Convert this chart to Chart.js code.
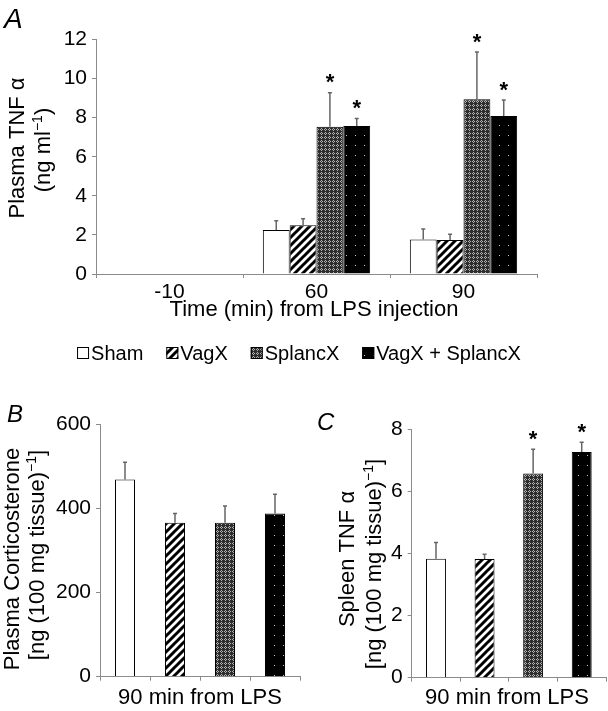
<!DOCTYPE html>
<html>
<head>
<meta charset="utf-8">
<script src="https://cdn.jsdelivr.net/npm/chart.js@4/dist/chart.umd.min.js"></script>
<style>
  html, body { margin: 0; padding: 0; background: #fff; }
  #wrap { position: relative; width: 608px; height: 711px; overflow: hidden; background: #fff; }
  canvas { position: absolute; }
</style>
</head>
<body>
<div id="wrap">
  <canvas id="cA" width="608" height="370" style="left:0;top:0"></canvas>
  <canvas id="cB" width="304" height="341" style="left:0;top:370px"></canvas>
  <canvas id="cC" width="304" height="341" style="left:304px;top:370px"></canvas>
</div>
<script>
// ---------------- DATA ----------------
const seriesNames = ['Sham', 'VagX', 'SplancX', 'VagX + SplancX'];

// Panel A: plasma TNF alpha (ng/ml) vs time from LPS injection
const categoriesA = ['-10', '60', '90'];
const tnfSham      = [0,    2.25, 1.77];
const tnfVagX      = [0.03, 2.49, 1.74];
const tnfSplancX   = [0,    7.53, 8.94];
const tnfBoth      = [0.03, 7.57, 8.08];
const tnfShamSem    = [0, 0.48, 0.53];
const tnfVagXSem    = [0, 0.34, 0.29];
const tnfSplancXSem = [0, 1.75, 2.42];
const tnfBothSem    = [0, 0.39, 0.82];
const tnfShamSig    = [false, false, false];
const tnfVagXSig    = [false, false, false];
const tnfSplancXSig = [false, true, true];
const tnfBothSig    = [false, true, true];
const yTicksA = [0, 2, 4, 6, 8, 10, 12];

// Panel B: plasma corticosterone, 90 min from LPS
const corticosterone    = [469, 366, 366, 388];
const corticosteroneSem = [41, 22, 40, 46];
const corticosteroneSig = [false, false, false, false];
const yTicksB = [0, 200, 400, 600];

// Panel C: spleen TNF alpha, 90 min from LPS
const spleenTnf    = [3.83, 3.82, 6.57, 7.26];
const spleenTnfSem = [0.52, 0.15, 0.78, 0.31];
const spleenTnfSig = [false, false, true, true];
const yTicksC = [0, 2, 4, 6, 8];

// ---------------- STYLE ----------------
const FONT = "'Liberation Sans', Arial, Helvetica, sans-serif";
const AXIS = '#8a8a8a';

function makePattern(w, h, draw) {
  const c = document.createElement('canvas');
  c.width = w; c.height = h;
  const g = c.getContext('2d');
  draw(g, w, h);
  return document.createElement('canvas').getContext('2d').createPattern(c, 'repeat');
}
const fillSham = '#ffffff';
const fillVagX = makePattern(8, 8, (g) => {
  g.fillStyle = '#fff'; g.fillRect(0, 0, 8, 8);
  g.strokeStyle = '#000'; g.lineWidth = 3;
  g.beginPath();
  g.moveTo(-2, 10); g.lineTo(10, -2);
  g.moveTo(-2, 2); g.lineTo(2, -2);
  g.moveTo(6, 10); g.lineTo(10, 6);
  g.stroke();
});
const fillSplancX = makePattern(4, 4, (g) => {
  g.fillStyle = '#2e2e2e'; g.fillRect(0, 0, 4, 4);
  g.fillStyle = '#b4b4b4';
  g.fillRect(1, 0, 1, 1); g.fillRect(0, 1, 1, 1); g.fillRect(2, 1, 1, 1); g.fillRect(1, 2, 1, 1);
});
const fillBoth = makePattern(9, 10, (g) => {
  g.fillStyle = '#000'; g.fillRect(0, 0, 9, 10);
  g.fillStyle = '#c8c8c8'; g.fillRect(4, 5, 1, 1);
});
const fills = [fillSham, fillVagX, fillSplancX, fillBoth];

// ---------------- HELPERS ----------------
function drawRich(ctx, parts, x, y, size, rotate, style) {
  ctx.save();
  ctx.translate(x, y);
  if (rotate) ctx.rotate(-Math.PI / 2);
  ctx.textBaseline = 'alphabetic';
  ctx.textAlign = 'left';
  ctx.fillStyle = '#000';
  const pre = style ? style + ' ' : '';
  const fontFor = (sup) => pre + (sup ? Math.round(size * 0.62) : size) + 'px ' + FONT;
  let w = 0;
  parts.forEach(([t, sup]) => { ctx.font = fontFor(sup); w += ctx.measureText(t).width; });
  let cx = -w / 2;
  parts.forEach(([t, sup]) => {
    ctx.font = fontFor(sup);
    ctx.fillText(t, cx, sup ? -size * 0.36 : 0);
    cx += ctx.measureText(t).width;
  });
  ctx.restore();
}
function drawLeft(ctx, text, x, y, size, style) {
  ctx.save();
  ctx.font = (style ? style + ' ' : '') + size + 'px ' + FONT;
  ctx.fillStyle = '#000'; ctx.textAlign = 'left'; ctx.textBaseline = 'alphabetic';
  ctx.fillText(text, x, y);
  ctx.restore();
}

function errorBarPlugin(semSets, sigSets) {
  return {
    id: 'errbars',
    afterDatasetsDraw(chart) {
      const ctx = chart.ctx;
      const ys = chart.scales.y;
      chart.data.datasets.forEach((ds, i) => {
        const meta = chart.getDatasetMeta(i);
        meta.data.forEach((el, j) => {
          const v = ds.data[j];
          const e = semSets[i][j];
          const top = ys.getPixelForValue(v + e);
          ctx.save();
          if (e > 0) {
            ctx.strokeStyle = '#666';
            ctx.lineWidth = 1.5;
            ctx.beginPath();
            ctx.moveTo(el.x, el.y);
            ctx.lineTo(el.x, top);
            ctx.moveTo(el.x - 2, top);
            ctx.lineTo(el.x + 2, top);
            ctx.stroke();
          }
          if (sigSets[i][j]) {
            const s = 22;
            ctx.font = 'bold ' + s + 'px ' + FONT;
            ctx.fillStyle = '#000';
            ctx.textAlign = 'center';
            ctx.textBaseline = 'alphabetic';
            ctx.fillText('*', el.x, top - 16 + 0.57 * s);
          }
          ctx.restore();
        });
      });
    }
  };
}

function textPlugin(drawFn) {
  return { id: 'texts', afterDraw(chart) { drawFn(chart.ctx, chart); } };
}

function scaleOpts(ticksArr, yWidth, xHeight, showXLabels) {
  return {
    x: {
      grid: { display: true, drawOnChartArea: false, tickLength: 4, color: AXIS, offset: true },
      border: { display: true, color: AXIS, width: 1 },
      ticks: { display: showXLabels, color: '#000', font: { family: FONT, size: 21 }, padding: 2, maxRotation: 0 },
      afterFit: (s) => { s.height = xHeight; s.paddingLeft = 0; s.paddingRight = 0; }
    },
    y: {
      min: ticksArr[0], max: ticksArr[ticksArr.length - 1],
      afterBuildTicks: (s) => { s.ticks = ticksArr.map(v => ({ value: v })); },
      grid: { display: true, drawOnChartArea: false, tickLength: 4, color: AXIS },
      border: { display: true, color: AXIS, width: 1 },
      ticks: { color: '#000', font: { family: FONT, size: 21 }, padding: 5 },
      afterFit: (s) => { s.width = yWidth; s.paddingTop = 0; s.paddingBottom = 0; }
    }
  };
}

const common = {
  responsive: false, animation: false, devicePixelRatio: 1,
  events: [],
};

// ---------------- CHART A ----------------
const valuesA = [tnfSham, tnfVagX, tnfSplancX, tnfBoth];
new Chart(document.getElementById('cA'), {
  type: 'bar',
  data: {
    labels: categoriesA,
    datasets: seriesNames.map((n, i) => ({
      label: n, data: valuesA[i], backgroundColor: fills[i],
      borderColor: '#000', borderWidth: 1,
      categoryPercentage: 0.73, barPercentage: 1.0
    }))
  },
  options: Object.assign({}, common, {
    layout: { padding: { top: 39.5, right: 71, left: 0, bottom: 0 } },
    plugins: { legend: { display: false }, tooltip: { enabled: false } },
    scales: scaleOpts(yTicksA, 96, 96, true)
  }),
  plugins: [
    errorBarPlugin([tnfShamSem, tnfVagXSem, tnfSplancXSem, tnfBothSem],
                   [tnfShamSig, tnfVagXSig, tnfSplancXSig, tnfBothSig]),
    textPlugin((ctx, chart) => {
      drawLeft(ctx, 'A', 4, 28, 28, 'italic');
      drawRich(ctx, [['Plasma TNF α', 0]], 24, 148, 22, true);
      drawRich(ctx, [['(ng ml', 0], ['−1', 1], [')', 0]], 49.5, 150, 22, true);
      drawRich(ctx, [['Time (min) from LPS injection', 0]], 314, 316, 22, false);
      // legend
      const size = 20, box = 12, gapBox = 2, gapItem = 23;
      ctx.save();
      ctx.font = size + 'px ' + FONT;
      const widths = seriesNames.map(n => ctx.measureText(n).width);
      let total = widths.reduce((a, b) => a + b, 0) + seriesNames.length * (box + gapBox) + gapItem * (seriesNames.length - 1);
      let x = 299 - total / 2;
      const base = 360;
      seriesNames.forEach((n, i) => {
        ctx.fillStyle = fills[i];
        ctx.fillRect(x, base - 13, box, box);
        ctx.strokeStyle = '#000'; ctx.lineWidth = 1;
        ctx.strokeRect(x + 0.5, base - 12.5, box - 1, box - 1);
        ctx.fillStyle = '#000';
        ctx.textBaseline = 'alphabetic'; ctx.textAlign = 'left';
        ctx.fillText(n, x + box + gapBox, base);
        x += box + gapBox + widths[i] + gapItem;
      });
      ctx.restore();
    })
  ]
});

// ---------------- CHART B ----------------
const singleLabels = ['', '', '', ''];
new Chart(document.getElementById('cB'), {
  type: 'bar',
  data: {
    labels: singleLabels,
    datasets: [{
      label: 'Plasma Corticosterone', data: corticosterone, backgroundColor: fills,
      borderColor: '#000', borderWidth: 1, categoryPercentage: 0.4, barPercentage: 1.0
    }]
  },
  options: Object.assign({}, common, {
    layout: { padding: { top: 54.3, right: 4, left: 0, bottom: 0 } },
    plugins: { legend: { display: false }, tooltip: { enabled: false } },
    scales: scaleOpts(yTicksB, 100, 34.3, false)
  }),
  plugins: [
    errorBarPlugin([corticosteroneSem], [corticosteroneSig]),
    textPlugin((ctx) => {
      drawLeft(ctx, 'B', 7, 52, 24, 'italic');
      drawRich(ctx, [['Plasma Corticosterone', 0]], 19, 189, 22, true);
      drawRich(ctx, [['[ng (100 mg tissue)', 0], ['−1', 1], [']', 0]], 44, 185, 22, true);
      drawRich(ctx, [['90 min from LPS', 0]], 200, 334, 22, false);
    })
  ]
});

// ---------------- CHART C ----------------
new Chart(document.getElementById('cC'), {
  type: 'bar',
  data: {
    labels: singleLabels,
    datasets: [{
      label: 'Spleen TNF α', data: spleenTnf, backgroundColor: fills,
      borderColor: '#000', borderWidth: 1, categoryPercentage: 0.41, barPercentage: 1.0
    }]
  },
  options: Object.assign({}, common, {
    layout: { padding: { top: 59, right: 2, left: 0, bottom: 0 } },
    plugins: { legend: { display: false }, tooltip: { enabled: false } },
    scales: scaleOpts(yTicksC, 107.7, 33.3, false)
  }),
  plugins: [
    errorBarPlugin([spleenTnfSem], [spleenTnfSig]),
    textPlugin((ctx) => {
      drawLeft(ctx, 'C', 13, 59.5, 24, 'italic');
      drawRich(ctx, [['Spleen TNF α', 0]], 50, 189, 22, true);
      drawRich(ctx, [['[ng (100 mg tissue)', 0], ['−1', 1], [']', 0]], 77, 194, 22, true);
      drawRich(ctx, [['90 min from LPS', 0]], 203, 334, 22, false);
    })
  ]
});
</script>
</body>
</html>
